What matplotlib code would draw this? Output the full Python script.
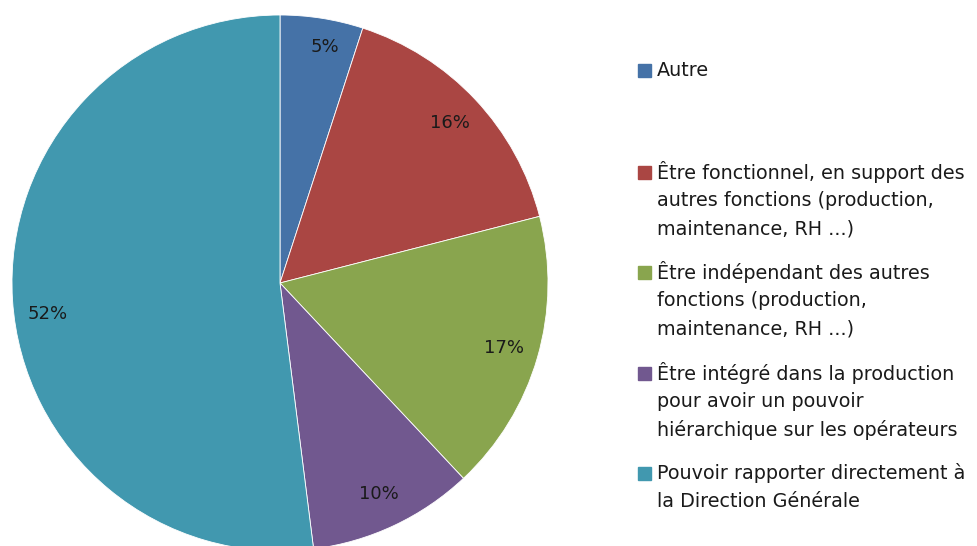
import matplotlib
matplotlib.use('Agg')
import matplotlib.pyplot as plt
from matplotlib.patches import Rectangle

plt.rcParams['font.family'] = ['DejaVu Sans']

labels = ['Autre',
          'Être fonctionnel, en support des\nautres fonctions (production,\nmaintenance, RH ...)',
          'Être indépendant des autres\nfonctions (production,\nmaintenance, RH ...)',
          'Être intégré dans la production\npour avoir un pouvoir\nhiérarchique sur les opérateurs',
          'Pouvoir rapporter directement à\nla Direction Générale']
values = [5, 16, 17, 10, 52]
colors = ['#4572A7', '#AA4643', '#89A54E', '#71588F', '#4198AF']

W, H = 978, 546
fig = plt.figure(figsize=(W / 100, H / 100), dpi=100)

# pie: centre (280, 283) px, radius 268 px
cx, cy, r = 280, 283, 268
ax = fig.add_axes([(cx - r) / W, (H - cy - r) / H, 2 * r / W, 2 * r / H])
wedges, texts, autotexts = ax.pie(values, colors=colors, startangle=90, counterclock=False,
                                  autopct='%d%%', pctdistance=0.87,
                                  wedgeprops=dict(edgecolor='white', linewidth=0.6),
                                  textprops=dict(fontsize=13, color='#1a1a1a'))
# Excel puts the big slice's label a bit lower
x, y = autotexts[4].get_position()
autotexts[4].set_position((x, y - 0.06))
x, y = autotexts[0].get_position()
autotexts[0].set_position((x + 0.03, y + 0.02))
ax.set_xlim(-1, 1)
ax.set_ylim(-1, 1)
ax.set_aspect('equal')
ax.axis('off')

# legend, placed by hand like the Excel original
first_line_y = [71, 172, 272, 373, 473]
line_step = 28.5
for lab, col, y0 in zip(labels, colors, first_line_y):
    fig.patches.append(Rectangle((638 / W, 1 - (y0 + 6.5) / H), 13 / W, 13 / H,
                                 transform=fig.transFigure, color=col))
    for i, line in enumerate(lab.split('\n')):
        fig.text(657 / W, 1 - (y0 + i * line_step) / H, line,
                 fontsize=13.8, color='#1a1a1a', va='center', ha='left')

fig.savefig('out.png', dpi=100)
